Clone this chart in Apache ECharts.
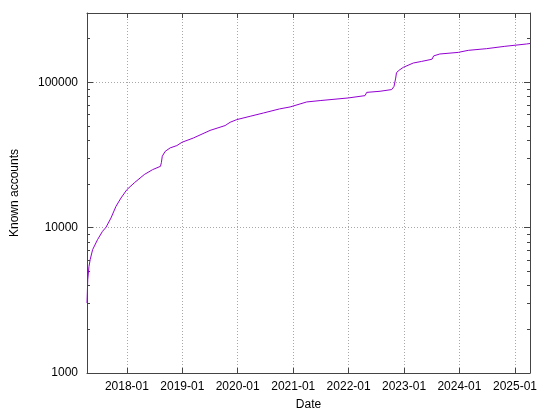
<!DOCTYPE html>
<html>
<head>
<meta charset="utf-8">
<script src="https://cdn.jsdelivr.net/npm/echarts@6/dist/echarts.min.js"></script>
<style>
html,body{margin:0;padding:0;background:#fff;}
#chart{width:554px;height:416px;}
</style>
</head>
<body>
<div id="chart"></div>
<script>
// ---- data ----
const dates = [
  '2017-04-13','2017-04-18','2017-04-26','2017-05-04','2017-05-20','2017-06-21',
  '2017-07-24','2017-08-16','2017-09-18','2017-10-21','2017-11-23','2018-01-01',
  '2018-02-18','2018-04-25','2018-06-19','2018-08-10','2018-08-16','2018-08-22',
  '2018-09-10','2018-10-13','2018-11-26','2018-12-29','2019-03-15','2019-07-03',
  '2019-10-10','2019-11-12','2019-12-26','2020-03-23','2020-06-18','2020-10-02',
  '2020-12-11','2021-03-31','2021-06-27','2021-12-30','2022-04-19','2022-04-30',
  '2022-07-27','2022-10-12','2022-10-27','2022-11-07','2022-11-12','2022-11-24',
  '2022-12-27','2023-03-03','2023-04-27','2023-06-21','2023-07-05','2023-07-15',
  '2023-08-25','2023-12-24','2024-02-28','2024-06-28','2024-10-26','2025-03-18',
  '2025-04-10'
];
const accounts = [
  3030,4400,5400,6030,7060,8260,
  9430,10050,11660,14030,16000,18280,
  20320,23180,25070,26430,28000,31000,
  33500,35400,36700,38650,41400,46700,
  50400,53100,55400,58400,61500,65600,
  67700,73300,74900,78100,81000,85300,
  86800,89200,93800,107000,116000,120000,
  126800,135800,139300,143200,144500,152000,
  156700,160700,166000,170500,176900,183600,
  185000
];
const xTickLabels = ['2018-01','2019-01','2020-01','2021-01','2022-01','2023-01','2024-01','2025-01'];
const yMajorTicks = [1000, 10000, 100000];
const yMinorTicks = [2000,3000,4000,5000,6000,7000,8000,9000,
                     20000,30000,40000,50000,60000,70000,80000,90000,
                     200000,300000];
const yMin = 1000, yMax = 300000;
const xTitle = 'Date';
const yTitle = 'Known accounts';

// ---- build ----
const ts = s => new Date(s + 'T00:00:00Z').getTime();
const seriesData = dates.map((d, i) => [ts(d), accounts[i]]);
const xTickValues = xTickLabels.map(l => ts(l + '-01'));
const fmtX = v => {
  const d = new Date(v);
  const m = d.getUTCMonth() + 1;
  return d.getUTCFullYear() + '-' + (m < 10 ? '0' + m : m);
};

const FONT = 'Liberation Sans, Arial, sans-serif';
const BORDER = '#444';
const GRID = { color: '#a8a8a8', width: 1, type: [1, 2] };

const chart = echarts.init(document.getElementById('chart'), null, { renderer: 'canvas' });
const xMin = seriesData[0][0], xMax = seriesData[seriesData.length - 1][0];

chart.setOption({
  animation: false,
  backgroundColor: '#fff',
  grid: { left: 87, right: 24, top: 13, bottom: 43, containLabel: false },
  xAxis: [
    {
      type: 'value', position: 'bottom', min: xMin, max: xMax, scale: true,
      name: xTitle, nameLocation: 'middle', nameGap: 26,
      nameTextStyle: { fontFamily: FONT, fontSize: 12, color: '#000' },
      axisLine: { show: true, onZero: false, lineStyle: { color: BORDER, width: 1 } },
      axisTick: { show: true, inside: true, length: 5, customValues: xTickValues, lineStyle: { color: BORDER } },
      axisLabel: { show: true, customValues: xTickValues, formatter: fmtX, margin: 8,
                   fontFamily: FONT, fontSize: 12, color: '#000', hideOverlap: false },
      splitLine: { show: true, lineStyle: GRID }
    },
    {
      type: 'value', position: 'top', min: xMin, max: xMax, scale: true,
      axisLine: { show: true, onZero: false, lineStyle: { color: BORDER, width: 1 } },
      axisTick: { show: true, inside: true, length: 5, customValues: xTickValues, lineStyle: { color: BORDER } },
      axisLabel: { show: false },
      splitLine: { show: false }
    }
  ],
  yAxis: [
    {
      type: 'log', logBase: 10, position: 'left', min: yMin, max: yMax,
      name: yTitle, nameLocation: 'middle', nameGap: 66, nameRotate: 90,
      nameTextStyle: { fontFamily: FONT, fontSize: 12, color: '#000' },
      axisLine: { show: true, onZero: false, lineStyle: { color: BORDER, width: 1 } },
      axisTick: { show: true, inside: true, length: 6, customValues: yMajorTicks, lineStyle: { color: BORDER } },
      axisLabel: { show: true, customValues: yMajorTicks, margin: 9, formatter: v => String(v),
                   fontFamily: FONT, fontSize: 12, color: '#000' },
      splitLine: { show: true, lineStyle: GRID }
    },
    {
      type: 'log', logBase: 10, position: 'left', min: yMin, max: yMax,
      axisLine: { show: false },
      axisTick: { show: true, inside: true, length: 3, customValues: yMinorTicks, lineStyle: { color: BORDER } },
      axisLabel: { show: false },
      splitLine: { show: false }
    },
    {
      type: 'log', logBase: 10, position: 'right', min: yMin, max: yMax,
      axisLine: { show: true, onZero: false, lineStyle: { color: BORDER, width: 1 } },
      axisTick: { show: true, inside: true, length: 6, customValues: yMajorTicks, lineStyle: { color: BORDER } },
      axisLabel: { show: false },
      splitLine: { show: false }
    },
    {
      type: 'log', logBase: 10, position: 'right', min: yMin, max: yMax,
      axisLine: { show: false },
      axisTick: { show: true, inside: true, length: 3, customValues: yMinorTicks, lineStyle: { color: BORDER } },
      axisLabel: { show: false },
      splitLine: { show: false }
    }
  ],
  series: [{
    type: 'line',
    xAxisIndex: 0, yAxisIndex: 0,
    data: seriesData,
    showSymbol: false,
    symbol: 'none',
    lineStyle: { color: '#9400d3', width: 1 },
    itemStyle: { color: '#9400d3' },
    clip: true
  }]
});
</script>
</body>
</html>
